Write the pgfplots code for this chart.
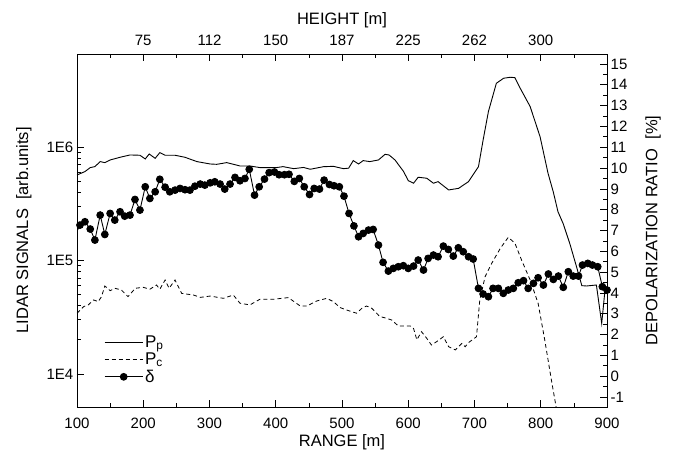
\documentclass[border=0pt]{standalone}
\usepackage{fontspec}
\setmainfont{Liberation Sans}
\usepackage{pgfplots}
\pgfplotsset{compat=1.18}

\pgfplotsset{
  lidar/.style={
    scale only axis, width=530pt, height=353pt,
    xmin=100, xmax=900,
    tick align=inside,
    major tick length=7pt, minor tick length=4pt,
    every axis/.append style={line width=0.8pt},
    tick style={line width=0.7pt, black},
    /pgf/number format/assume math mode=true,
    tick label style={font=\fontsize{15}{17}\selectfont},
    label style={font=\fontsize{16.5}{19}\selectfont},
  },
}

\begin{document}
\begin{tikzpicture}
\useasboundingbox (-77pt,-43pt) rectangle (597pt,407pt);

\begin{axis}[lidar,
  ymode=log, ymin=5120, ymax=6.59e6,
  xtick={100,200,...,900}, minor x tick num=1,
  xtick pos=bottom, ytick pos=left,
  ytick={1e4,1e5,1e6}, yticklabels={1E4,1E5,1E6},
  every x tick label/.append style={yshift=-7pt},
  xlabel style={yshift=1pt},
  ylabel shift=8pt,
  xlabel={RANGE [m]}, ylabel={LIDAR SIGNALS \ [arb.units]},
]
% P_p
\addplot[black, line width=0.9pt] coordinates {
(100,5.66e5) (112,6.07e5) (120,6.58e5) (127,6.71e5) (135,7.43e5) (142,7.28e5)
(150,7.68e5) (165,8.11e5) (180,8.5e5) (195,8.45e5) (203,7.84e5) (209,8.67e5)
(218,7.94e5) (225,8.91e5) (233,8.45e5) (248,8.45e5) (263,8.11e5) (281,7.43e5)
(301,7.08e5) (311,7.03e5) (326,7.28e5) (346,6.8e5) (361,6.8e5) (376,6.58e5)
(401,6.58e5) (411,6.71e5) (427,6.44e5) (442,6.6e5) (452,6.36e5) (472,6.7e5)
(487,6.75e5) (502,6.44e5) (510,6.5e5) (517,7.58e5) (525,7.08e5) (532,7.58e5)
(542,7.43e5) (555,7.68e5) (565,8.61e5) (571,8.5e5) (580,7.68e5) (593,6.07e5)
(600,5.05e5) (608,4.79e5) (615,5.41e5) (628,5.30e5) (638,4.79e5) (645,4.95e5)
(661,4.18e5) (676,4.32e5) (691,4.95e5) (706,6.71e5) (713,1.15e6) (721,2.05e6)
(733,3.64e6) (744,4.03e6) (754,4.11e6) (761,4.08e6) (769,3.29e6) (784,2.27e6)
(799,1.23e6) (811,5.86e5) (819,4.0e5) (826,2.69e5) (834,2.1e5) (844,1.4e5)
(854,8.8e4) (862,6.0e4) (869,5.96e4) (884,6.08e4) (892,2.79e4) (897,5.5e4)
(900,5.5e4)
};
% P_c
\addplot[black, line width=0.8pt, dash pattern=on 4pt off 3pt] coordinates {
(100,3.43e4) (110,3.92e4) (117,4.06e4) (125,4.49e4) (132,4.34e4) (137,4.8e4)
(142,5.96e4) (150,5.42e4) (157,5.69e4) (167,5.5e4) (177,4.8e4) (188,5.69e4)
(200,5.8e4) (210,5.58e4) (220,6.08e4) (225,5.58e4) (233,6.73e4) (239,5.69e4)
(248,6.73e4) (258,5.13e4) (276,4.96e4) (286,4.73e4) (301,4.86e4) (321,4.64e4)
(336,4.96e4) (346,4.2e4) (361,4.06e4) (376,4.55e4) (396,4.55e4) (419,4.71e4)
(437,3.97e4) (447,3.97e4) (462,4.4e4) (477,4.64e4) (487,4.34e4) (497,3.85e4)
(507,3.66e4) (522,3.43e4) (530,3.79e4) (537,3.97e4) (545,3.79e4) (557,3.21e4)
(567,3.1e4) (575,2.99e4) (585,2.65e4) (603,2.65e4) (608,2.52e4) (613,2.0e4)
(620,2.36e4) (628,2.06e4) (635,1.8e4) (643,1.93e4) (653,2.13e4) (661,1.74e4)
(671,1.63e4) (681,1.86e4) (686,1.74e4) (691,1.89e4) (703,2.13e4) (708,4.49e4)
(716,7.2e4) (726,9.44e4) (739,1.28e5) (751,1.6e5) (761,1.42e5) (771,1.01e5)
(784,6.73e4) (796,4.2e4) (806,2.0e4) (816,8.9e3) (823,5.2e3) (826,4.0e3)
};
\end{axis}

\begin{axis}[lidar,
  ymin=-1.48, ymax=15.48,
  xtick={200,300,...,800},
  xticklabels={75,112,150,187,225,262,300},
  minor xtick={150,250,...,850},
  xtick pos=top, xticklabel pos=top,
  every x tick label/.append style={yshift=5pt},
  ytick={-1,0,...,15}, minor y tick num=1,
  ytick pos=right, yticklabel pos=right,
  ylabel shift=11pt,
  xlabel={HEIGHT [m]}, ylabel={DEPOLARIZATION RATIO \ [\%]},
  legend style={draw=none, fill=none, at={(0.045,0.215)}, anchor=north west,
    font=\fontsize{17}{19.5}\selectfont, row sep=0pt},
  legend cell align=left,
  legend image code/.code={\draw[mark repeat=2,mark phase=2,#1]
    plot coordinates {(0pt,0pt) (19pt,0pt) (38pt,0pt)};},
]
\addlegendimage{black, line width=0.9pt}
\addlegendentry{P\textsubscript{p}}
\addlegendimage{black, line width=0.8pt, dash pattern=on 4pt off 3pt}
\addlegendentry{P\textsubscript{c}}
\addplot[black, line width=0.9pt, mark=*, mark size=3.4pt] coordinates {
(97,6.78) (104.5,7.26) (112,7.42) (120,7.07) (127,6.54) (135,7.74) (142,6.81)
(150,7.82) (157,7.5) (165,7.9) (172,7.69) (180,7.74) (187.5,8.49) (195,7.98)
(203,9.10) (210,8.54) (218,8.86) (225,9.46) (233,9.08) (240,8.86) (248,8.94)
(255.5,9.02) (263,8.96) (270.5,8.94) (278,9.13) (286,9.23) (293,9.18) (301,9.29)
(308,9.34) (316,9.23) (323,8.99) (331,9.23) (338.5,9.55) (346,9.39) (353.5,9.5)
(360,9.94) (368,8.70) (375,9.10) (383,9.47) (390,9.78) (398,9.81) (405,9.68)
(413,9.68) (420,9.70) (428,9.36) (435.6,9.50) (443,9.10) (451,8.73) (458,9.02)
(466,8.99) (473,9.42) (481,9.21) (488,9.15) (496,9.10) (503,8.65) (510.6,7.82)
(518,7.22) (525,6.70) (532,6.86) (540,7.02) (547,7.05) (555,6.30) (562,5.47)
(570,5.05) (577.5,5.18) (585,5.26) (592.6,5.31) (600,5.18) (608,5.29) (615,5.58)
(623,5.10) (630,5.66) (638,5.82) (645,5.74) (653,6.25) (660.5,6.09) (668,5.77)
(675.6,6.17) (683,5.98) (691,5.74) (698,5.63) (706,4.22) (713,3.95) (721,3.82)
(728,4.22) (736,4.22) (743.5,3.98) (751,4.14) (758.6,4.22) (766,4.49) (774,4.59)
(781,4.22) (789,4.46) (796,4.73) (804,4.38) (811.5,4.91) (819,4.65) (826.6,4.81)
(834,4.27) (841.6,5.02) (849,4.81) (857,4.81) (863,5.34) (871,5.42) (878,5.34)
(886,5.26) (893,4.30) (900,4.14)
};
\addlegendentry{δ}
\end{axis}
\end{tikzpicture}
\end{document}
